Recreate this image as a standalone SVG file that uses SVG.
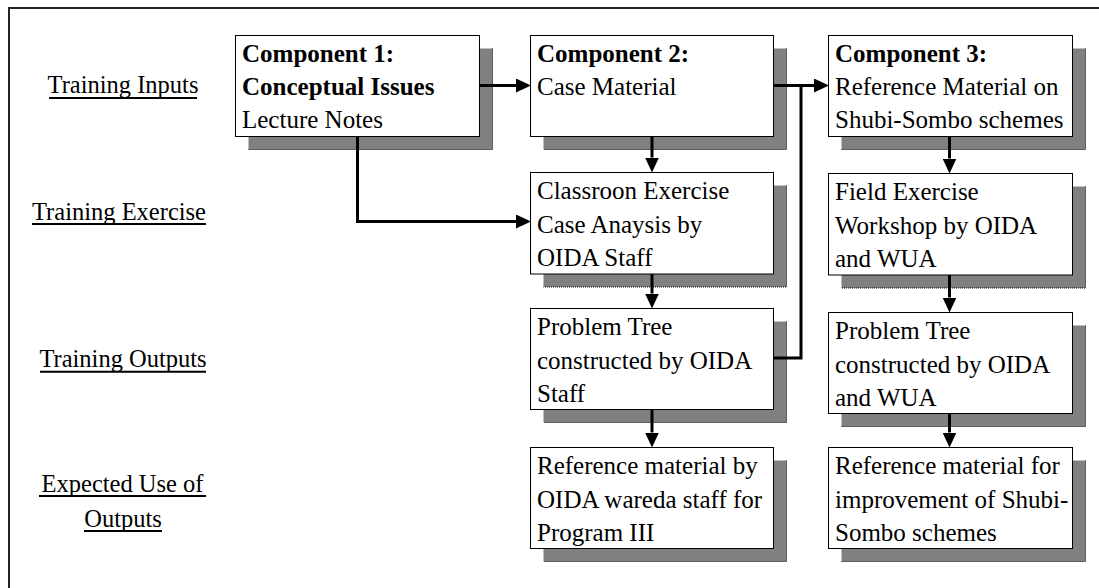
<svg xmlns="http://www.w3.org/2000/svg" width="1099" height="588" viewBox="0 0 1099 588">
  <style>
    .frame { fill: none; stroke: #222; stroke-width: 2; }
    .box { fill: #fff; stroke: #000; stroke-width: 1; }
    .shadow { fill: #808080; }
    .shadow-edge { fill: none; stroke: #000; stroke-width: 1; stroke-dasharray: 1 1; }
    .t { font-family: "Liberation Serif", "Times New Roman", serif; font-size: 25px; fill: #000; }
    .b { font-weight: bold; }
    .lbl { font-family: "Liberation Serif", "Times New Roman", serif; font-size: 24.5px; fill: #000; text-anchor: middle; }
    .ul { stroke: #000; stroke-width: 2; }
    .link { fill: none; stroke: #000; stroke-width: 3; }
  </style>
  <defs>
    <marker id="arr" markerUnits="userSpaceOnUse" markerWidth="15" markerHeight="14" viewBox="0 0 15 14" refX="0" refY="7" orient="auto">
      <path d="M0,0 L15,7 L0,14 z" fill="#000"/>
    </marker>
  </defs>

  <rect width="1099" height="588" fill="#fff"/>

  <!-- outer frame (right and bottom edges fall outside the canvas) -->
  <path class="frame" d="M9,600 V8 H1110"/>

  <!-- row headings -->
  <g id="row-labels">
    <text class="lbl" x="123" y="93">Training Inputs</text>
    <line class="ul" x1="49" y1="98" x2="197" y2="98"/>
    <text class="lbl" x="119" y="219.5">Training Exercise</text>
    <line class="ul" x1="32" y1="224" x2="206" y2="224"/>
    <text class="lbl" x="123" y="367">Training Outputs</text>
    <line class="ul" x1="40" y1="371.7" x2="206" y2="371.7"/>
    <text class="lbl" x="122.5" y="491.5">Expected Use of</text>
    <line class="ul" x1="39" y1="496" x2="206" y2="496"/>
    <text class="lbl" x="123" y="526.5">Outputs</text>
    <line class="ul" x1="84" y1="531" x2="162" y2="531"/>
  </g>

  <!-- column 1 -->
  <g id="component-1">
    <rect class="shadow" x="248.5" y="48.5" width="244" height="101"/>
    <path class="shadow-edge" d="M492.5,48.5 V149.5 H248.5"/>
    <rect class="box" x="235.5" y="35.5" width="244" height="101"/>
    <text class="t b" x="242" y="62">Component 1:</text>
    <text class="t b" x="242" y="95">Conceptual Issues</text>
    <text class="t" x="242" y="128">Lecture Notes</text>
  </g>

  <!-- column 2 -->
  <g id="component-2">
    <rect class="shadow" x="543.5" y="48.5" width="243" height="101"/>
    <path class="shadow-edge" d="M786.5,48.5 V149.5 H543.5"/>
    <rect class="box" x="530.5" y="35.5" width="243" height="101"/>
    <text class="t b" x="537" y="62">Component 2:</text>
    <text class="t" x="537" y="95">Case Material</text>
  </g>

  <g id="classroom-exercise">
    <rect class="shadow" x="543.5" y="185.5" width="243" height="101.5"/>
    <path class="shadow-edge" d="M786.5,185.5 V287 H543.5"/>
    <rect class="box" x="530.5" y="172.5" width="243" height="101.5"/>
    <text class="t" x="537" y="199">Classroon Exercise</text>
    <text class="t" x="537" y="232.5">Case Anaysis by</text>
    <text class="t" x="537" y="266">OIDA Staff</text>
  </g>

  <g id="problem-tree-staff">
    <rect class="shadow" x="543.5" y="321.5" width="243" height="101"/>
    <path class="shadow-edge" d="M786.5,321.5 V422.5 H543.5"/>
    <rect class="box" x="530.5" y="308.5" width="243" height="101"/>
    <text class="t" x="537" y="335">Problem Tree</text>
    <text class="t" x="537" y="368.5">constructed by OIDA</text>
    <text class="t" x="537" y="402">Staff</text>
  </g>

  <g id="reference-wareda">
    <rect class="shadow" x="543.5" y="460.5" width="243" height="101"/>
    <path class="shadow-edge" d="M786.5,460.5 V561.5 H543.5"/>
    <rect class="box" x="530.5" y="447.5" width="243" height="101"/>
    <text class="t" x="537" y="474">Reference material by</text>
    <text class="t" x="537" y="507.5">OIDA wareda staff for</text>
    <text class="t" x="537" y="541">Program III</text>
  </g>

  <!-- column 3 -->
  <g id="component-3">
    <rect class="shadow" x="841.5" y="48.5" width="244" height="101"/>
    <path class="shadow-edge" d="M1085.5,48.5 V149.5 H841.5"/>
    <rect class="box" x="828.5" y="35.5" width="244" height="101"/>
    <text class="t b" x="835" y="62">Component 3:</text>
    <text class="t" x="835" y="95">Reference Material on</text>
    <text class="t" x="835" y="128">Shubi-Sombo schemes</text>
  </g>

  <g id="field-exercise">
    <rect class="shadow" x="841.5" y="186.5" width="244" height="101.5"/>
    <path class="shadow-edge" d="M1085.5,186.5 V288 H841.5"/>
    <rect class="box" x="828.5" y="173.5" width="244" height="101.5"/>
    <text class="t" x="835" y="200">Field Exercise</text>
    <text class="t" x="835" y="233.5">Workshop by OIDA</text>
    <text class="t" x="835" y="267">and WUA</text>
  </g>

  <g id="problem-tree-wua">
    <rect class="shadow" x="841.5" y="325.5" width="244" height="101"/>
    <path class="shadow-edge" d="M1085.5,325.5 V426.5 H841.5"/>
    <rect class="box" x="828.5" y="312.5" width="244" height="101"/>
    <text class="t" x="835" y="339">Problem Tree</text>
    <text class="t" x="835" y="372.5">constructed by OIDA</text>
    <text class="t" x="835" y="406">and WUA</text>
  </g>

  <g id="reference-shubi-sombo">
    <rect class="shadow" x="841.5" y="460.5" width="244" height="101"/>
    <path class="shadow-edge" d="M1085.5,460.5 V561.5 H841.5"/>
    <rect class="box" x="828.5" y="447.5" width="244" height="101"/>
    <text class="t" x="835" y="474">Reference material for</text>
    <text class="t" x="835" y="507.5">improvement of Shubi-</text>
    <text class="t" x="835" y="541">Sombo schemes</text>
  </g>

  <!-- connectors -->
  <g id="connectors">
    <path class="link" d="M480,85.5 H516" marker-end="url(#arr)"/>
    <path class="link" d="M357.5,137 V221.5 H516" marker-end="url(#arr)"/>
    <path class="link" d="M652,137 V157.5" marker-end="url(#arr)"/>
    <path class="link" d="M652,274 V293.5" marker-end="url(#arr)"/>
    <path class="link" d="M652,410 V432.5" marker-end="url(#arr)"/>
    <path class="link" d="M773.5,85.5 H814" marker-end="url(#arr)"/>
    <path class="link" d="M773.5,358 H801 V85.5"/>
    <path class="link" d="M949.5,137 V158.5" marker-end="url(#arr)"/>
    <path class="link" d="M949.5,275 V297.5" marker-end="url(#arr)"/>
    <path class="link" d="M949.5,414 V432.5" marker-end="url(#arr)"/>
  </g>
</svg>
